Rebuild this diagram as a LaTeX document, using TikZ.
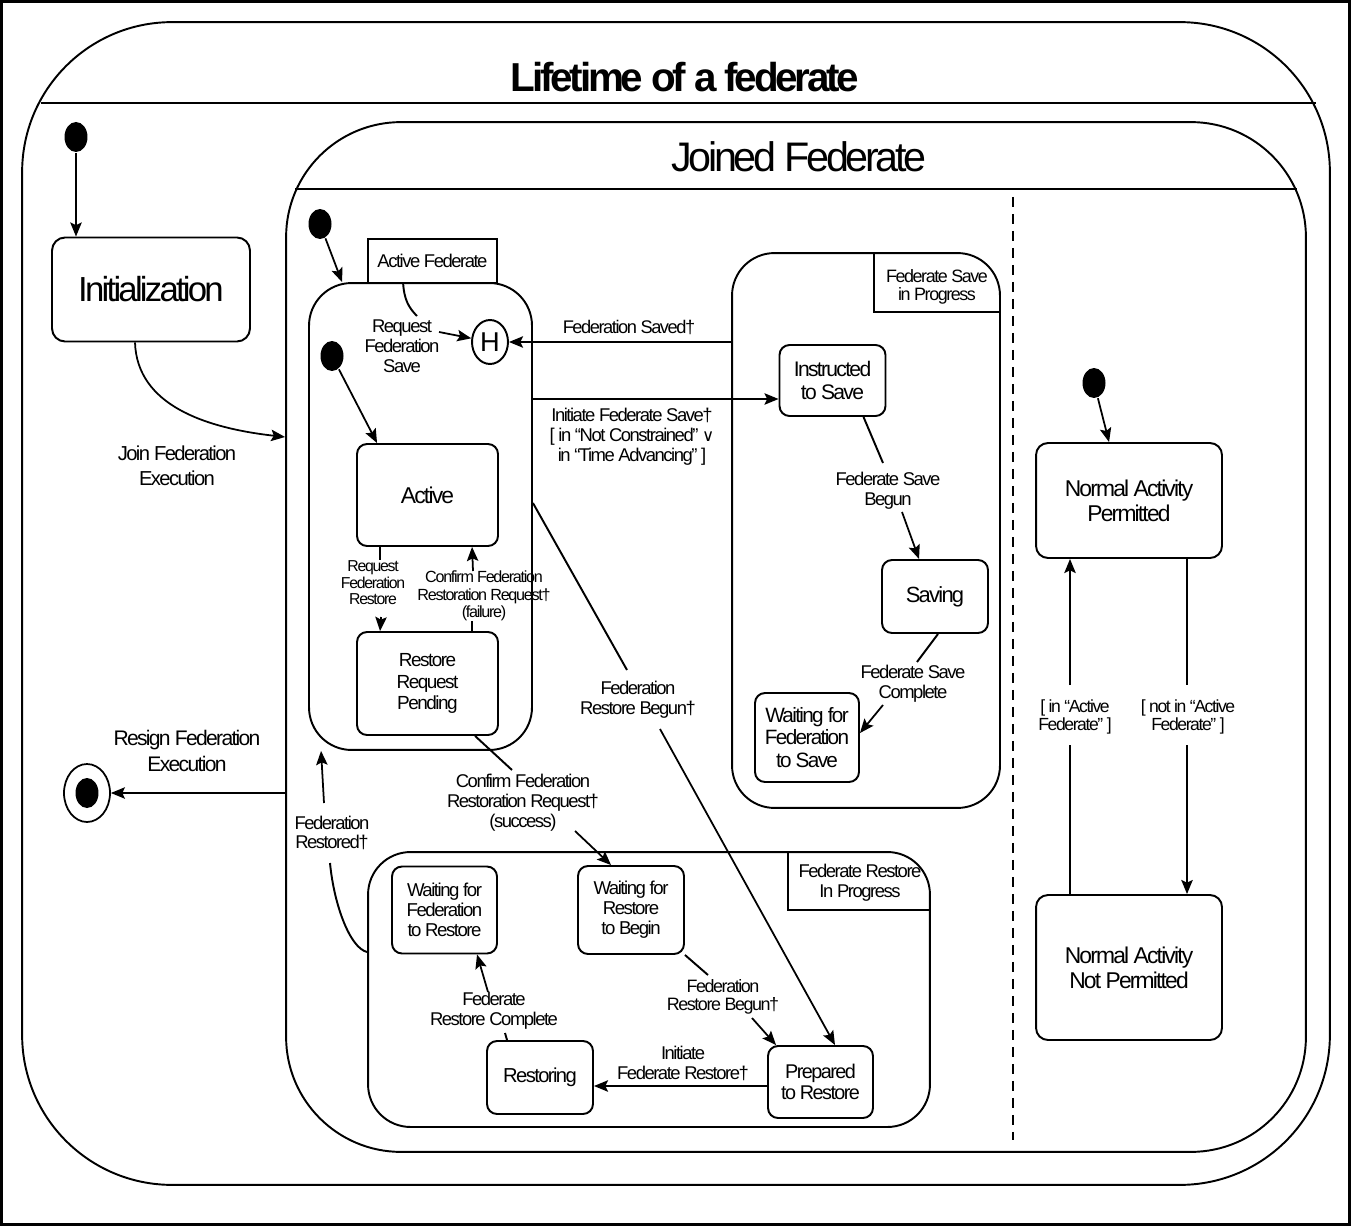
\documentclass[tikz,border=0pt]{standalone}
\usepackage{fontspec}
\setmainfont{Liberation Sans}[LetterSpace=-8]
\newfontfamily\symfont{DejaVu Sans}
\usetikzlibrary{shapes.geometric,arrows.meta,calc}
\newcommand\fsz[2]{\fontsize{#1}{#2}\selectfont}

\begin{document}
\begin{tikzpicture}[x=0.02cm, y=-0.02cm, line width=1.1pt,
  arr/.style={-{Stealth[length=8pt,width=6.5pt,inset=1.5pt]}, line width=1pt},
  st/.style={draw, rounded corners=0.2cm, align=center, inner sep=0pt},
  comp/.style={draw, rounded corners=0.85cm, inner sep=0pt},
  lab/.style={align=center, inner sep=0pt, font=\fsz{10.5}{11.3}},
  sml/.style={align=center, inner sep=0pt, font=\fsz{9.2}{9.8}},
  dot/.style={ellipse, fill=black, inner sep=0pt, minimum width=0.46cm, minimum height=0.6cm},
]
\useasboundingbox (0,0) rectangle (1351,1226);
\draw[line width=2pt] (1.5,1.5) rectangle (1349.5,1224.5);

% ---- top level state machine ----
\node[draw, rounded corners=3cm, minimum width=26.16cm, minimum height=23.26cm, inner sep=0pt] (life) at (676,603.5) {};
\node[font=\bfseries\fsz{23}{26}] (ttl) at (685,77) {Lifetime of a federate};
\draw ($(life.north west)+(20,82)$) -- ($(life.north east)+(-15,82)$);

\node[dot] (i0) at (76,137) {};
\node[st, rounded corners=0.26cm, minimum width=3.96cm, minimum height=2.08cm, font=\fsz{19.8}{22}] (init) at (151,289.5) {Initialization};
\draw[arr] (i0) -- (init.north -| i0);

\node[draw, ellipse, inner sep=0pt, minimum width=0.92cm, minimum height=1.16cm, line width=1pt] (fin) at (87,793) {};
\node[ellipse, fill=black, inner sep=0pt, minimum width=0.46cm, minimum height=0.6cm] (finc) at (fin) {};

% ---- Joined Federate ----
\node[draw, rounded corners=2.3cm, minimum width=20.4cm, minimum height=20.6cm, inner sep=0pt] (jf) at (796,637) {};
\node[font=\fsz{23.5}{26}] (jft) at (799,157) {Joined Federate};
\draw ($(jf.north west)+(10,68)$) -- ($(jf.north east)+(-10,68)$);
\draw[dash pattern=on 0.2cm off 0.14cm] (1013,197) -- (1013,1140);

\draw[arr] ($(init.south)+(-16,0)$) .. controls (137,405) and (205,428) .. (jf.west |- 0,437);
\node[lab, font=\fsz{11.5}{14}] (ljoin) at (177,466) {Join Federation\\Execution};
\draw[arr] (jf.west |- fin) -- (fin);
\node[lab, font=\fsz{12}{14.7}] (lresign) at (187,751) {Resign Federation\\Execution};

% ---- Active Federate ----
\node[dot] (ji) at (320,224) {};
\node[comp, minimum width=4.46cm, minimum height=9.34cm] (af) at (420.5,516.5) {};
\node[draw, inner sep=0pt, minimum width=2.58cm, minimum height=0.88cm, font=\fsz{10.5}{11.3}] (aft) at (432.5,261) {Active Federate};
\draw[arr] (ji) -- ($(af.north west)+(34,0)$);

\node[draw, ellipse, inner sep=0pt, minimum width=0.72cm, minimum height=0.88cm, font=\fsz{15.5}{17}] (H) at (490,342) {H};
\draw ($(af.north west)+(95,0)$) .. controls (404,300) and (409,308) .. (417,316);
\node[lab] (lrfs) at (402,346) {Request\\Federation\\Save};
\draw[arr] (439,332) -- (H);

\node[dot] (ai) at (332,356) {};
\node[st, minimum width=2.82cm, minimum height=2.04cm, font=\fsz{13}{15}] (active) at (427.5,495) {Active};
\node[st, minimum width=2.82cm, minimum height=2.06cm, font=\fsz{10.8}{12.3}] (rrp) at (427.5,683.5) {Restore\\Request\\Pending};
\draw[arr] (ai) -- ($(active.north west)+(21,0)$);

\draw ($(active.south west)+(24,0)$) -- ++(0,13);
\node[sml, font=\fsz{9}{9.4}] (lrfr) at (373,583) {Request\\Federation\\Restore};
\draw[arr] (381,617) -- ($(rrp.north west)+(24,0)$);

\draw ($(rrp.north west)+(116,0)$) -- ++(0,-10);
\node[sml] (lcf) at (484,596) {Confirm Federation\\Restoration Request\textdagger\\(failure)};
\draw[arr] (473,571) -- ($(active.south west)+(116,0)$);

% ---- Federate Save in Progress ----
\node[comp, minimum width=5.36cm, minimum height=11.1cm] (fsp) at (866,530.5) {};
\draw ($(fsp.north west)+(143,0)$) |- ($(fsp.east |- 0,312)$);
\node[lab, font=\fsz{10.2}{10.4}] (fspt) at (937,287) {Federate Save\\in Progress};

\node[st, minimum width=2.12cm, minimum height=1.42cm, font=\fsz{12}{13.3}] (its) at (832.5,380.5) {Instructed\\to Save};
\node[st, minimum width=2.12cm, minimum height=1.46cm, font=\fsz{12.5}{14}] (saving) at (935,596.5) {Saving};
\node[st, minimum width=2.08cm, minimum height=1.78cm, font=\fsz{11.8}{12.7}] (wfs) at (807,737.5) {Waiting for\\Federation\\to Save};

\draw[arr] (fsp.west |- H) -- (H);
\node[lab, font=\fsz{10.4}{12}] (lfs) at (629,327) {Federation Saved\textdagger};
\draw[arr] (af.east |- 0,399) -- (its.west |- 0,399);
\node[lab] (lifs) at (632,437) {Initiate Federate Save\textdagger\\{}[ in “Not Constrained” {\symfont\fsz{9.5}{10}∨}\\in “Time Advancing” ]};

\draw ($(its.south)+(31,0)$) -- (883,463);
\node[lab] (lfsb) at (888,491) {Federate Save\\Begun};
\draw[arr] (902,512) -- ($(saving.north west)+(38,0)$);

\draw ($(saving.south)+(3,0)$) -- (917,662);
\node[lab] (lfsc) at (913,684) {Federate Save\\Complete};
\draw[arr] (883,705) -- (wfs.east |- 0,733);

% ---- Federate Restore In Progress ----
\node[comp, minimum width=11.24cm, minimum height=5.5cm] (frp) at (649,989.5) {};
\draw ($(frp.north west)+(421,0)$) |- ($(frp.east |- 0,910)$);
\node[lab] (frpt) at (860,883) {Federate Restore\\In Progress};

\node[st, minimum width=2.1cm, minimum height=1.74cm, font=\fsz{10.6}{11.3}] (wfr) at (444.5,910) {Waiting for\\Federation\\to Restore};
\node[st, minimum width=2.12cm, minimum height=1.76cm, font=\fsz{10.6}{11.3}] (wrb) at (631,910) {Waiting for\\Restore\\to Begin};
\node[st, minimum width=2.12cm, minimum height=1.46cm, font=\fsz{11.5}{13}] (restoring) at (540,1077.5) {Restoring};
\node[st, minimum width=2.1cm, minimum height=1.44cm, font=\fsz{11.3}{12.3}] (ptr) at (820.5,1082) {Prepared\\to Restore};

\draw ($(rrp.south west)+(119,0)$) -- (512,770);
\node[lab] (lcs) at (523,803) {Confirm Federation\\Restoration Request\textdagger\\(success)};
\draw[arr] (575,831) -- ($(wrb.north west)+(34,0)$);

\draw ($(af.east)+(0,-13.5)$) -- (627,670);
\node[lab] (lfrb) at (638,700) {Federation\\Restore Begun\textdagger};
\draw[arr] (660,729) -- ($(ptr.north)+(14.5,0)$);

\draw (wrb.south east) -- (708,975);
\node[lab, font=\fsz{10.2}{10.4}] (lfrb2) at (723,997) {Federation\\Restore Begun\textdagger};
\draw[arr] (752,1018) -- ($(ptr.north west)+(9,0)$);

\draw[arr] (ptr.west |- 0,1086) -- (restoring.east |- 0,1086);
\node[lab] (lifr) at (683,1063) {Initiate\\Federate Restore\textdagger};

\draw ($(restoring.north west)+(21,0)$) -- (505,1033);
\node[lab] (lfrc) at (494,1011) {Federate\\Restore Complete};
\draw[arr] (488,992) -- ($(wfr.south west)+(86,0)$);

\draw (frp.west |- 0,952) .. controls (350,948) and (334,905) .. (330,863);
\node[lab] (lfr) at (332,833) {Federation\\Restored\textdagger};
\draw[arr] (324,803) -- ($(af.south west)+(13,0)$);

% ---- activity permission region ----
\node[dot] (ni) at (1094,383) {};
\node[st, rounded corners=0.24cm, minimum width=3.72cm, minimum height=2.3cm, font=\fsz{13}{14.2}] (nap) at (1129,500.5) {Normal Activity\\Permitted};
\node[st, rounded corners=0.24cm, minimum width=3.72cm, minimum height=2.9cm, font=\fsz{13}{14.2}] (nanp) at (1129,967.5) {Normal Activity\\Not Permitted};
\draw[arr] (ni) -- ($(nap.north west)+(74,0)$);

\draw (nanp.north -| 1070,0) -- (1070,745);
\node[lab, font=\fsz{10}{10.3}] (lin) at (1075,717) {[ in “Active\\Federate” ]};
\draw[arr] (1070,685) -- (nap.south -| 1070,0);

\draw (nap.south -| 1187,0) -- (1187,685);
\node[lab, font=\fsz{10}{10.3}] (lnot) at (1188,717) {[ not in “Active\\Federate” ]};
\draw[arr] (1187,745) -- (nanp.north -| 1187,0);
\end{tikzpicture}
\end{document}
